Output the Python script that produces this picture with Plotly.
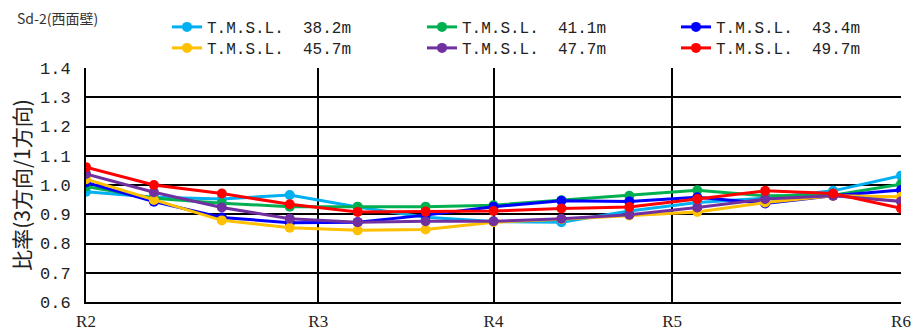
import plotly.graph_objects as go

# --- data -------------------------------------------------------------
x_idx = list(range(13))
tick_pos = [0, 3.42, 6, 8.63, 12]
tick_text = ["R2", "R3", "R4", "R5", "R6"]

names = ["T.M.S.L.  38.2m", "T.M.S.L.  41.1m", "T.M.S.L.  43.4m",
         "T.M.S.L.  45.7m", "T.M.S.L.  47.7m", "T.M.S.L.  49.7m"]
s382 = [0.977, 0.958, 0.952, 0.966, 0.925, 0.890, 0.875, 0.873, 0.911, 0.940, 0.955, 0.980, 1.032]
s411 = [0.995, 0.955, 0.938, 0.926, 0.926, 0.926, 0.931, 0.948, 0.963, 0.982, 0.963, 0.965, 1.003]
s434 = [1.009, 0.943, 0.889, 0.871, 0.873, 0.897, 0.926, 0.946, 0.944, 0.958, 0.937, 0.963, 0.983]
s457 = [1.020, 0.949, 0.879, 0.854, 0.845, 0.848, 0.873, 0.883, 0.896, 0.908, 0.940, 0.963, 0.960]
s477 = [1.038, 0.975, 0.923, 0.885, 0.873, 0.876, 0.876, 0.885, 0.898, 0.923, 0.952, 0.963, 0.944]
s497 = [1.061, 1.000, 0.971, 0.934, 0.908, 0.909, 0.911, 0.920, 0.925, 0.952, 0.980, 0.971, 0.920]
series = [s382, s411, s434, s457, s477, s497]
colors = ["#00B0F0", "#00B050", "#0000FF", "#FFC000", "#7030A0", "#FF0000"]

W, H = 914, 333
ML, MR, MT, MB = 86, 13, 68, 31
PW, PH = W - ML - MR, H - MT - MB

# legend grid (pixel anchors of text start / row centre)
col_text_px = [207, 462, 716]
row_px = [27, 48]

fig = go.Figure()
layout_legends = {}
for i, (nm, ys, c) in enumerate(zip(names, series, colors)):
    key = "legend" if i == 0 else f"legend{i + 1}"
    fig.add_trace(go.Scatter(
        x=x_idx, y=ys, name=nm, mode="lines+markers",
        line=dict(color=c, width=3), marker=dict(color=c, size=10),
        legend=key,
    ))
    col, row = i % 3, i // 3
    lx = col_text_px[col] - 40
    layout_legends[key] = dict(
        orientation="h", xref="paper", yref="paper",
        x=(lx - ML) / PW, y=1 + (MT - row_px[row]) / PH,
        xanchor="left", yanchor="middle",
        bgcolor="rgba(0,0,0,0)", borderwidth=0,
        font=dict(family="Liberation Mono", size=16, color="#222"),
    )

fig.update_layout(
    width=W, height=H,
    margin=dict(l=ML, r=MR, t=MT, b=MB, autoexpand=False),
    paper_bgcolor="white", plot_bgcolor="white",
    showlegend=True,
    xaxis=dict(
        range=[0, 12], tickmode="array", tickvals=tick_pos, ticktext=tick_text,
        showgrid=True, gridcolor="#000", gridwidth=1.5,
        showline=True, linecolor="#000", linewidth=2, mirror=False,
        zeroline=False, ticks="", ticklabelstandoff=3, ticklabeloverflow="allow",
        tickfont=dict(family="Liberation Serif", size=17, color="#222"),
    ),
    yaxis=dict(
        range=[0.6, 1.4], dtick=0.1, tick0=0.6, tickformat=".1f",
        showgrid=True, gridcolor="#000", gridwidth=1.5,
        showline=True, linecolor="#000", linewidth=2,
        zeroline=False, ticks="", ticklabelstandoff=10,
        tickfont=dict(family="Liberation Mono", size=17, color="#222"),
        title=dict(text="比率(3方向/1方向)", standoff=4,
                   font=dict(family="Noto Sans CJK JP", size=21, color="#222")),
    ),
    annotations=[dict(
        text="Sd-2(西面壁)", xref="paper", yref="paper",
        x=(15 - ML) / PW, y=1 + (MT - 18) / PH,
        xanchor="left", yanchor="middle", showarrow=False,
        font=dict(family="Noto Sans CJK JP", size=14, color="#333"),
    )],
    **layout_legends,
)

fig.write_html(
    "out.html",
    config={"displayModeBar": False},
    post_script="document.body.style.margin='0';document.body.style.overflow='hidden';",
)
